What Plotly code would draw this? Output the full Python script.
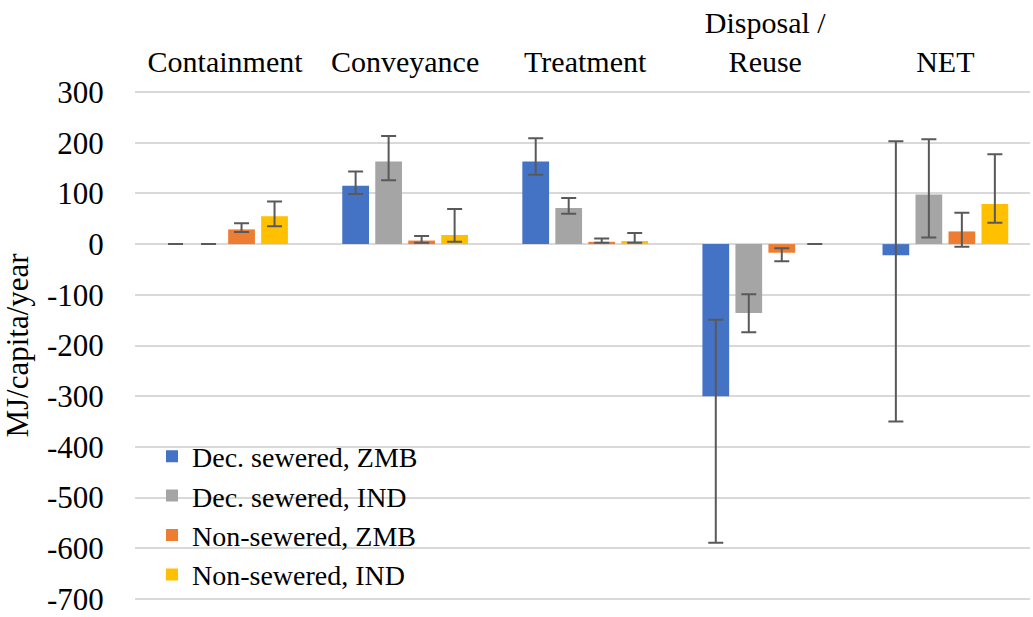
import plotly.graph_objects as go

categories = ["Containment", "Conveyance", "Treatment", "Disposal /<br>Reuse", "NET"]
series_names = ["Dec. sewered, ZMB", "Dec. sewered, IND", "Non-sewered, ZMB", "Non-sewered, IND"]
colors = ["#4472C4", "#A5A5A5", "#ED7D31", "#FFC000"]

dec_zmb = [0, 115, 163, -300, -22]
dec_zmb_hi = [0, 143, 209, -149, 203]
dec_zmb_lo = [0, 99, 137, -589, -350]

dec_ind = [0, 163, 71, -136, 98]
dec_ind_hi = [0, 213, 91, -99, 207]
dec_ind_lo = [0, 126, 60, -174, 13]

non_zmb = [29, 7, 4.5, -17, 25]
non_zmb_hi = [41, 16, 11, -8, 62]
non_zmb_lo = [24, 2.6, 2.6, -34, -5]

non_ind = [55, 18, 6, 0, 79]
non_ind_hi = [84, 69, 22, 0, 177]
non_ind_lo = [35, 4.5, 2.6, 0, 42]

y_ticks = [300, 200, 100, 0, -100, -200, -300, -400, -500, -600, -700]
y_ticktext = ["300", "200", "100", "0", "-100", "-200", "-300", "-400", "-500", "-600", "-700"]

values = [dec_zmb, dec_ind, non_zmb, non_ind]
highs = [dec_zmb_hi, dec_ind_hi, non_zmb_hi, non_ind_hi]
lows = [dec_zmb_lo, dec_ind_lo, non_zmb_lo, non_ind_lo]

FONT = "Liberation Serif"

fig = go.Figure()
for name, col, v, hi, lo in zip(series_names, colors, values, highs, lows):
    fig.add_trace(go.Bar(
        name=name, x=categories, y=v,
        marker=dict(color=col, line=dict(width=0)),
        error_y=dict(type="data", symmetric=False,
                     array=[h - a for h, a in zip(hi, v)],
                     arrayminus=[a - l for a, l in zip(v, lo)],
                     color="#595959", thickness=2, width=7.5),
    ))

fig.update_layout(
    width=1033, height=617,
    margin=dict(l=135, r=3, t=91, b=17),
    paper_bgcolor="white", plot_bgcolor="white",
    barmode="group", bargap=0.267, bargroupgap=0.19,
    font=dict(family=FONT, size=31, color="black"),
    showlegend=True,
    legend=dict(x=0.019, y=0.331, xanchor="left", yanchor="top",
                font=dict(family=FONT, size=28, color="black"),
                bgcolor="rgba(0,0,0,0)", tracegroupgap=0, itemwidth=30),
    xaxis=dict(side="top", type="category", range=[-0.5, 4.47], automargin=False,
               showgrid=False, showline=False, zeroline=False,
               ticks="outside", ticklen=6, tickcolor="rgba(0,0,0,0)",
               tickfont=dict(family=FONT, size=30, color="black")),
    yaxis=dict(range=[-702, 302], tickvals=y_ticks, ticktext=y_ticktext, automargin=False,
               showgrid=True, gridcolor="#D9D9D9", gridwidth=1.5,
               zeroline=True, zerolinecolor="#D9D9D9", zerolinewidth=1.5,
               showline=False, ticks="outside", ticklen=24, tickcolor="rgba(0,0,0,0)",
               tickfont=dict(family=FONT, size=31, color="black"),
               title=dict(text="MJ/capita/year", font=dict(family=FONT, size=31, color="black"), standoff=10)),
)

fig.write_html("out.html")
